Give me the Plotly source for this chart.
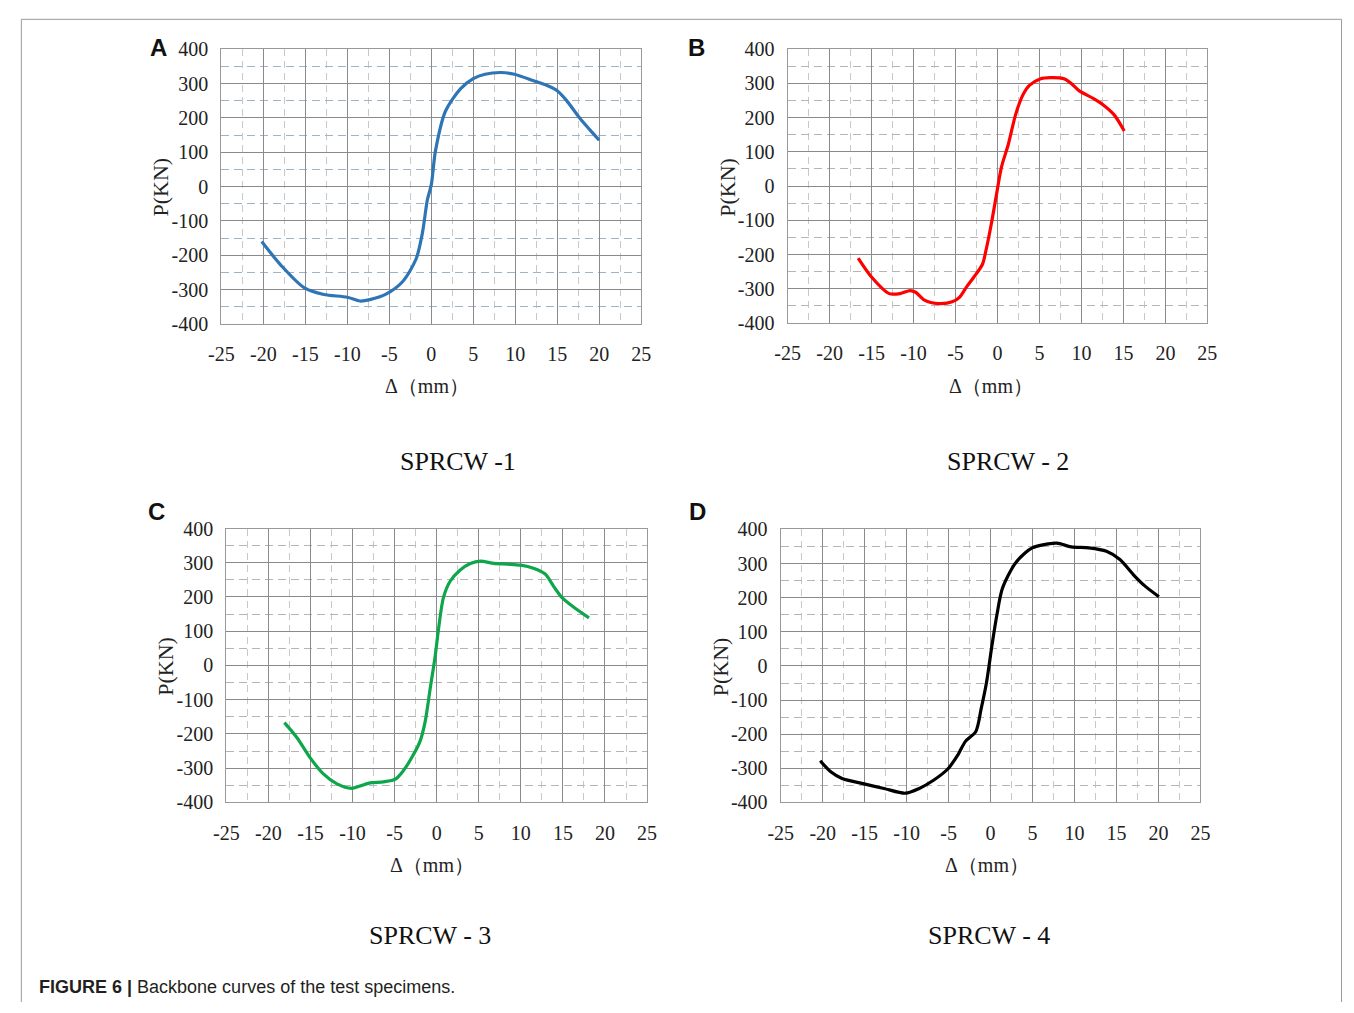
import plotly.graph_objects as go

W, H = 1354, 1013

# ---------------- data ----------------
x_ticks = [-25, -20, -15, -10, -5, 0, 5, 10, 15, 20, 25]
x_tick_labels = ["-25", "-20", "-15", "-10", "-5", "0", "5", "10", "15", "20", "25"]
y_ticks = [-400, -300, -200, -100, 0, 100, 200, 300, 400]
y_tick_labels = ["-400", "-300", "-200", "-100", "0", "100", "200", "300", "400"]

panel_letters = ["A", "B", "C", "D"]
panel_names = ["SPRCW -1", "SPRCW - 2", "SPRCW - 3", "SPRCW - 4"]
y_title = "P(KN)"
x_title = "Δ（mm）"
caption_bold = "FIGURE 6 |"
caption_text = "Backbone curves of the test specimens."

disp_1 = [-20.2, -17.9, -15.1, -12.8, -10.0, -8.5, -7.3, -5.4, -3.4, -1.8, -1.05, -0.47,
          0.0, 0.5, 1.7, 3.5, 5.0, 6.4, 8.3, 9.9, 12.2, 13.8, 15.0, 16.1, 17.7, 18.9, 20.0]
load_1 = [-160, -229, -295, -314, -322, -333, -329, -313, -276, -210, -134, -39,
          5, 104, 220, 285, 314, 327, 332, 327, 308, 294, 279, 251, 199, 165, 135]

disp_2 = [-16.6, -14.95, -12.9, -11.6, -10.4, -9.75, -8.7, -7.0, -5.4, -4.5, -3.7, -2.85,
          -1.8, -1.4, -0.77, -0.15, 0.48, 1.3, 2.15, 3.0, 3.8, 5.07, 6.3, 8.0, 8.85, 9.7,
          11.4, 12.6, 13.9, 15.1]
load_2 = [-210, -267, -314, -314, -305, -310, -333, -343, -338, -324, -295, -267,
          -229, -191, -115, -29, 56, 123, 208, 265, 294, 313, 317, 313, 298, 279,
          256, 237, 208, 161]

disp_3 = [-18.1, -16.6, -15.05, -13.5, -11.9, -10.1, -9.1, -7.9, -6.3, -4.9, -3.95, -2.96,
          -1.97, -1.37, -0.78, -0.18, 0.2, 0.8, 1.6, 2.8, 4.0, 5.2, 6.8, 8.4, 10.0, 11.5,
          12.9, 13.9, 14.9, 16.3, 18.1]
load_3 = [-167, -211, -269, -316, -345, -359, -352, -343, -340, -332, -307, -269,
          -221, -164, -69, 27, 103, 198, 246, 279, 298, 305, 298, 296, 293, 284,
          267, 231, 198, 170, 139]

disp_4 = [-20.3, -19.0, -17.7, -15.2, -12.7, -10.15, -8.5, -6.8, -5.1, -3.86, -3.0, -1.76,
          -1.13, -0.5, 0.13, 0.75, 1.4, 2.85, 4.1, 4.95, 6.2, 7.9, 9.6, 11.7, 13.8, 15.4,
          17.1, 18.4, 20.05]
load_4 = [-278, -311, -330, -345, -359, -373, -359, -335, -302, -259, -221, -192,
          -126, -50, 55, 150, 227, 298, 331, 346, 355, 360, 349, 346, 336, 312,
          265, 234, 203]

series = [(disp_1, load_1), (disp_2, load_2), (disp_3, load_3), (disp_4, load_4)]
colors = ["#2E75B6", "#FF0000", "#0DA64B", "#000000"]

# ---------------- layout geometry (pixels) ----------------
boxes = [(212, 639, 39, 320), (788, 1215, 39, 319), (217, 645, 529, 809), (781, 1208, 530, 809)]
ytitle_pos = [(150, 180), (726, 180), (155, 670), (720, 670)]
xtitle_pos = [(421, 383), (995, 383), (426, 873), (991, 873)]
name_pos = [(453, 460), (1012, 460), (424, 945), (993, 945)]
letter_pos = [(148, 37), (695, 37), (146, 512), (696, 512)]
hdash_colors = ["#9FB3C8", "#B5B5B5", "#B5B5B5", "#B5B5B5"]


def px(x):
    return x / W


def py(y):
    return 1 - y / H


fig = go.Figure()
layout = dict(
    width=W, height=H, margin=dict(l=0, r=0, t=0, b=0),
    paper_bgcolor="white", plot_bgcolor="white", showlegend=False,
    annotations=[], shapes=[],
)

serif = "Liberation Serif, Times New Roman, serif"
sans = "Liberation Sans, Arial, sans-serif"

for i, ((xs, ys), col, box) in enumerate(zip(series, colors, boxes)):
    suffix = "" if i == 0 else str(i + 1)
    fig.add_trace(go.Scatter(
        x=xs, y=ys, mode="lines",
        line=dict(color=col, width=3.2, shape="spline", smoothing=0.8),
        xaxis="x" + suffix, yaxis="y" + suffix,
    ))
    l, r, t, b = box
    layout["xaxis" + suffix] = dict(
        domain=[px(l), px(r)], range=[-25, 25], anchor="y" + suffix,
        tickmode="array", tickvals=x_ticks, ticktext=x_tick_labels,
        ticks="outside", ticklen=12, tickcolor="rgba(0,0,0,0)",
        tickfont=dict(family=serif, size=20, color="#222"),
        showgrid=True, gridcolor="#8a8a8a", gridwidth=1.3,
        showline=True, linecolor="#999999", linewidth=1.3, mirror=True,
        zeroline=False, fixedrange=True,
        minor=dict(tickmode="linear", tick0=0, dtick=2.5, showgrid=True,
                   gridcolor="#C8C8C8", griddash="7px,5px", gridwidth=1),
    )
    layout["yaxis" + suffix] = dict(
        domain=[py(b), py(t)], range=[-400, 400], anchor="x" + suffix,
        tickmode="array", tickvals=y_ticks, ticktext=y_tick_labels,
        ticks="outside", ticklen=8, tickcolor="rgba(0,0,0,0)",
        tickfont=dict(family=serif, size=20, color="#222"),
        showgrid=True, gridcolor="#8a8a8a", gridwidth=1.3,
        showline=True, linecolor="#999999", linewidth=1.3, mirror=True,
        zeroline=False, fixedrange=True,
        minor=dict(tickmode="linear", tick0=0, dtick=50, showgrid=True,
                   gridcolor=hdash_colors[i], griddash="8px,5px", gridwidth=1.2),
    )
    ann = layout["annotations"]
    ann.append(dict(x=px(ytitle_pos[i][0]), y=py(ytitle_pos[i][1]), xref="paper", yref="paper",
                    text=y_title, textangle=-90, showarrow=False, xanchor="center", yanchor="middle",
                    font=dict(family=serif, size=22, color="#222")))
    ann.append(dict(x=px(xtitle_pos[i][0]), y=py(xtitle_pos[i][1]), xref="paper", yref="paper",
                    text=x_title, showarrow=False, xanchor="center", yanchor="middle",
                    font=dict(family=serif, size=20, color="#222")))
    ann.append(dict(x=px(name_pos[i][0]), y=py(name_pos[i][1]), xref="paper", yref="paper",
                    text=panel_names[i], showarrow=False, xanchor="center", yanchor="middle",
                    font=dict(family=serif, size=26, color="#111")))
    ann.append(dict(x=px(letter_pos[i][0]), y=py(letter_pos[i][1]), xref="paper", yref="paper",
                    text="<b>" + panel_letters[i] + "</b>", showarrow=False,
                    xanchor="center", yanchor="middle",
                    font=dict(family=sans, size=24, color="#111")))

layout["annotations"].append(dict(
    x=px(24), y=py(998), xref="paper", yref="paper", xanchor="left", yanchor="middle",
    text="<b>" + caption_bold + "</b> " + caption_text, showarrow=False,
    font=dict(family=sans, size=18, color="#231F20")))

frame = dict(color="#9A9A9A", width=1)
for x0, y0, x1, y1 in [(8.5, 8.5, 1351.5, 8.5), (8.5, 8.5, 8.5, 1013), (1351.5, 8.5, 1351.5, 1013)]:
    layout["shapes"].append(dict(type="line", xref="paper", yref="paper",
                                 x0=px(x0), y0=py(y0), x1=px(x1), y1=py(y1),
                                 line=frame, layer="below"))

fig.update_layout(**layout)
fig.write_html("out.html")
